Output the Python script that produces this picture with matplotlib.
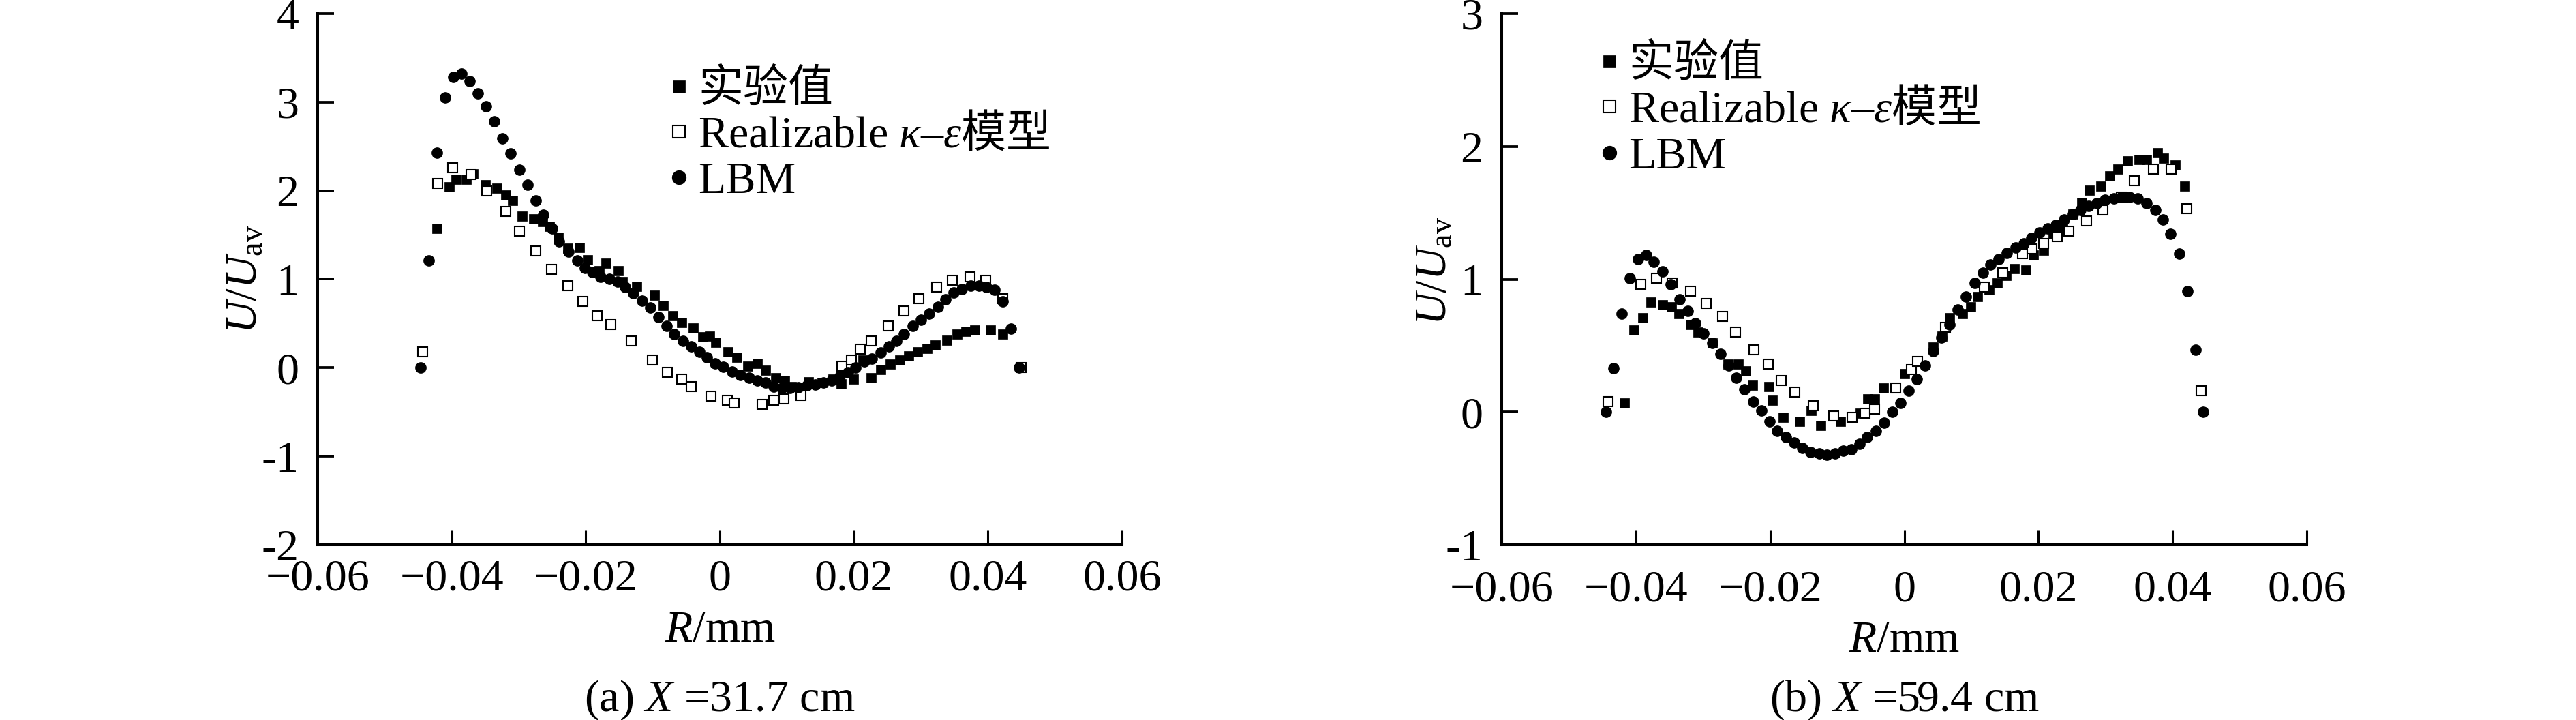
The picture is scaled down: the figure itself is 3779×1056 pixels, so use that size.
import matplotlib
matplotlib.use('Agg')
import matplotlib.pyplot as plt
from matplotlib.legend import Legend
from matplotlib.ticker import FixedLocator, FixedFormatter

plt.rcParams['font.family'] = ['Liberation Serif', 'Noto Sans CJK SC']
plt.rcParams['mathtext.fontset'] = 'custom'
plt.rcParams['mathtext.rm'] = 'Liberation Serif'
plt.rcParams['mathtext.it'] = 'Liberation Serif:italic'
plt.rcParams['mathtext.bf'] = 'Liberation Serif:bold'
plt.rcParams['mathtext.fallback'] = 'stix'

# ---- panel (a) X = 31.7 cm ----
r_exp_a = [-0.0422, -0.0404, -0.0394, -0.0378, -0.0368, -0.0350, -0.0333, -0.0319, -0.0309, -0.0295,
           -0.0278, -0.0264, -0.0254, -0.0241, -0.0227, -0.0210, -0.0197, -0.0180, -0.0170, -0.0152,
           -0.0145, -0.0124, -0.0098, -0.0084, -0.0070, -0.0057, -0.0040, -0.0025, -0.0015, -0.0006,
           0.0012, 0.0025, 0.0042, 0.0056, 0.0068, 0.0083, 0.0097, 0.0107, 0.0132, 0.0153,
           0.0169, 0.0181, 0.0199, 0.0214, 0.0226, 0.0240, 0.0254, 0.0268, 0.0282, 0.0295,
           0.0309, 0.0321, 0.0339, 0.0354, 0.0367, 0.0380, 0.0404, 0.0422]
u_exp_a = [1.57, 2.04, 2.13, 2.13, 2.19, 2.07, 2.03, 1.95, 1.89, 1.71,
           1.68, 1.65, 1.60, 1.47, 1.35, 1.36, 1.22, 1.10, 1.18, 1.10,
           0.97, 0.92, 0.82, 0.70, 0.59, 0.51, 0.45, 0.35, 0.36, 0.29,
           0.18, 0.12, 0.02, 0.05, -0.03, -0.11, -0.14, -0.21, -0.16, -0.17,
           -0.13, -0.18, -0.13, 0.09, -0.11, -0.02, 0.04, 0.09, 0.13, 0.18,
           0.22, 0.26, 0.31, 0.38, 0.41, 0.43, 0.43, 0.38]

r_rke_a = [-0.0443, -0.0421, -0.0399, -0.0371, -0.0348, -0.0319, -0.0299, -0.0275, -0.0251, -0.0227,
           -0.0204, -0.0183, -0.0163, -0.0132, -0.0101, -0.0078, -0.0057, -0.0043, -0.0013, 0.0011,
           0.0021, 0.0063, 0.0080, 0.0096, 0.0121, 0.0182, 0.0196, 0.0209, 0.0226, 0.0251,
           0.0275, 0.0297, 0.0323, 0.0347, 0.0373, 0.0397, 0.0422, 0.0449]
u_rke_a = [0.18, 2.08, 2.26, 2.18, 2.00, 1.77, 1.54, 1.32, 1.11, 0.93,
           0.75, 0.59, 0.49, 0.30, 0.09, -0.05, -0.13, -0.21, -0.32, -0.37,
           -0.40, -0.41, -0.37, -0.35, -0.31, 0.02, 0.09, 0.21, 0.30, 0.47,
           0.64, 0.78, 0.91, 0.99, 1.03, 0.99, 0.78, 0.00]

r_lbm_a = [-0.0446, -0.0434, -0.0422, -0.0410, -0.0398, -0.0385, -0.0373, -0.0361, -0.0349, -0.0337,
           -0.0324, -0.0312, -0.0299, -0.0287, -0.0275, -0.0263, -0.0250, -0.0240, -0.0226, -0.0213,
           -0.0201, -0.0190, -0.0178, -0.0165, -0.0153, -0.0141, -0.0129, -0.0116, -0.0104, -0.0092,
           -0.0079, -0.0068, -0.0055, -0.0043, -0.0031, -0.0019, -0.0007, 0.0005, 0.0018, 0.0031,
           0.0044, 0.0056, 0.0068, 0.0080, 0.0093, 0.0105, 0.0117, 0.0130, 0.0142, 0.0155,
           0.0167, 0.0179, 0.0191, 0.0202, 0.0216, 0.0227, 0.0240, 0.0252, 0.0263, 0.0275,
           0.0288, 0.0300, 0.0312, 0.0325, 0.0337, 0.0349, 0.0361, 0.0374, 0.0386, 0.0398,
           0.0410, 0.0422, 0.0434, 0.0446]
u_lbm_a = [0.00, 1.21, 2.43, 3.05, 3.28, 3.32, 3.24, 3.10, 2.95, 2.78,
           2.59, 2.42, 2.24, 2.07, 1.89, 1.73, 1.57, 1.43, 1.31, 1.21,
           1.13, 1.08, 1.03, 1.00, 0.97, 0.91, 0.84, 0.76, 0.68, 0.57,
           0.47, 0.38, 0.30, 0.24, 0.18, 0.12, 0.05, 0.01, -0.04, -0.08,
           -0.11, -0.14, -0.17, -0.21, -0.23, -0.23, -0.22, -0.20, -0.19, -0.17,
           -0.14, -0.10, -0.05, 0.00, 0.07, 0.10, 0.17, 0.24, 0.30, 0.38,
           0.47, 0.54, 0.61, 0.69, 0.77, 0.85, 0.89, 0.93, 0.93, 0.91,
           0.88, 0.75, 0.44, 0.00]

# ---- panel (b) X = 59.4 cm ----
r_exp_b = [-0.0417, -0.0403, -0.0390, -0.0377, -0.0360, -0.0347, -0.0336, -0.0319, -0.0307, -0.0286,
           -0.0263, -0.0247, -0.0236, -0.0226, -0.0202, -0.0197, -0.0180, -0.0156, -0.0139, -0.0124,
           -0.0095, -0.0066, -0.0054, -0.0044, -0.0031, 0.0000, 0.0043, 0.0056, 0.0068, 0.0087,
           0.0099, 0.0109, 0.0126, 0.0139, 0.0152, 0.0164, 0.0181, 0.0193, 0.0208, 0.0222,
           0.0236, 0.0251, 0.0265, 0.0276, 0.0293, 0.0306, 0.0319, 0.0333, 0.0350, 0.0361,
           0.0377, 0.0387, 0.0404, 0.0418]
u_exp_b = [0.07, 0.62, 0.71, 0.83, 0.81, 0.79, 0.74, 0.66, 0.60, 0.52,
           0.36, 0.36, 0.31, 0.20, 0.19, 0.09, -0.04, -0.07, 0.01, -0.10,
           -0.07, -0.01, 0.10, 0.10, 0.18, 0.29, 0.49, 0.57, 0.71, 0.74,
           0.79, 0.87, 0.92, 0.97, 1.03, 1.08, 1.07, 1.18, 1.22, 1.34,
           1.38, 1.49, 1.58, 1.67, 1.70, 1.78, 1.83, 1.89, 1.90, 1.90,
           1.95, 1.91, 1.86, 1.70]

r_rke_b = [-0.0441, -0.0393, -0.0369, -0.0346, -0.0319, -0.0295, -0.0271, -0.0251, -0.0224, -0.0203,
           -0.0183, -0.0163, -0.0136, -0.0105, -0.0078, -0.0058, -0.0044, -0.0013, 0.0011, 0.0020,
           0.0061, 0.0119, 0.0147, 0.0176, 0.0191, 0.0208, 0.0228, 0.0245, 0.0272, 0.0296,
           0.0324, 0.0343, 0.0371, 0.0398, 0.0421, 0.0442]
u_rke_b = [0.08, 0.96, 1.01, 0.97, 0.91, 0.82, 0.72, 0.60, 0.47, 0.36,
           0.24, 0.15, 0.05, -0.03, -0.04, -0.01, 0.02, 0.18, 0.32, 0.38,
           0.64, 0.94, 1.05, 1.19, 1.23, 1.27, 1.32, 1.36, 1.44, 1.52,
           1.62, 1.74, 1.83, 1.83, 1.53, 0.16]

r_lbm_b = [-0.0445, -0.0433, -0.0421, -0.0409, -0.0397, -0.0385, -0.0373, -0.0360, -0.0348, -0.0335,
           -0.0323, -0.0311, -0.0299, -0.0286, -0.0274, -0.0262, -0.0250, -0.0238, -0.0225, -0.0213,
           -0.0201, -0.0189, -0.0176, -0.0164, -0.0152, -0.0140, -0.0127, -0.0115, -0.0103, -0.0091,
           -0.0079, -0.0067, -0.0055, -0.0042, -0.0030, -0.0018, -0.0006, 0.0007, 0.0019, 0.0031,
           0.0043, 0.0055, 0.0068, 0.0080, 0.0092, 0.0105, 0.0117, 0.0129, 0.0141, 0.0153,
           0.0166, 0.0178, 0.0190, 0.0202, 0.0214, 0.0226, 0.0238, 0.0251, 0.0263, 0.0275,
           0.0287, 0.0299, 0.0312, 0.0324, 0.0336, 0.0348, 0.0361, 0.0374, 0.0386, 0.0397,
           0.0410, 0.0422, 0.0434, 0.0446]
u_lbm_b = [0.00, 0.33, 0.74, 1.01, 1.15, 1.18, 1.13, 1.06, 0.96, 0.85,
           0.76, 0.67, 0.59, 0.52, 0.44, 0.35, 0.26, 0.17, 0.08, 0.01,
           -0.07, -0.14, -0.19, -0.23, -0.27, -0.30, -0.31, -0.32, -0.31, -0.29,
           -0.28, -0.24, -0.19, -0.14, -0.08, 0.00, 0.07, 0.16, 0.25, 0.35,
           0.46, 0.56, 0.66, 0.77, 0.87, 0.97, 1.05, 1.11, 1.15, 1.20,
           1.24, 1.27, 1.31, 1.35, 1.38, 1.41, 1.45, 1.49, 1.52, 1.55,
           1.57, 1.60, 1.61, 1.62, 1.62, 1.61, 1.57, 1.52, 1.45, 1.34,
           1.19, 0.91, 0.47, 0.00]

labels = ['实验值', r'$\mathrm{Realizable}\ \mathit{\kappa}\mathrm{–}\mathit{\varepsilon}$模型', 'LBM']
x_ticks = [-0.06, -0.04, -0.02, 0, 0.02, 0.04, 0.06]
x_ticklabels = ['−0.06', '−0.04', '−0.02', '0', '0.02', '0.04', '0.06']
captions = [r'(a) $\mathit{X}$ =31.7 cm', r'(b) $\mathit{X}$ =59.4 cm']

W, H = 3779, 1056
fs = 47.5
desc = 14  # px below baseline of a legend row box

fig = plt.figure(figsize=(W / 100, H / 100), dpi=100)

# axes boxes in pixels: left, top, right, bottom
boxes = [(466, 20, 1646, 799), (2203, 20, 3384, 799)]
ylims = [(-2, 4), (-1, 3)]
panels = [(r_exp_a, u_exp_a, r_rke_a, u_rke_a, r_lbm_a, u_lbm_a),
          (r_exp_b, u_exp_b, r_rke_b, u_rke_b, r_lbm_b, u_lbm_b)]
legend_x = [980, 2345]
legend_base = [(150, 217, 283), (113, 180, 247)]
xpad = [15, 27]
xlabel_base = [941, 956]
ylabel_x = [-0.090, -0.083]
ylabel_y = [0.50, 0.516]

for i in range(2):
    l, t, r, b = boxes[i]
    ax = fig.add_axes([l / W, 1 - b / H, (r - l) / W, (b - t) / H])
    rx, ux, rr, ur, rl, ul = panels[i]
    h1, = ax.plot(rx, ux, 's', color='black', ms=10, mec='black', mew=0.5, linestyle='none')
    h2, = ax.plot(rr, ur, 's', mfc='white', mec='black', ms=9.5, mew=1.5, linestyle='none')
    h3, = ax.plot(rl, ul, 'o', color='black', ms=11, linestyle='none')

    ax.set_xlim(-0.06, 0.06)
    ax.set_ylim(*ylims[i])
    yt = list(range(ylims[i][0], ylims[i][1] + 1))
    ax.xaxis.set_major_locator(FixedLocator(x_ticks))
    ax.xaxis.set_major_formatter(FixedFormatter(x_ticklabels))
    ax.yaxis.set_major_locator(FixedLocator(yt))
    ax.yaxis.set_major_formatter(FixedFormatter([str(v) for v in yt]))
    for s in ['top', 'right']:
        ax.spines[s].set_visible(False)
    for s in ['left', 'bottom']:
        ax.spines[s].set_linewidth(2.9)
    ax.tick_params(axis='x', direction='in', length=15, width=2.2, pad=xpad[i], labelsize=fs)
    ax.tick_params(axis='y', direction='in', length=17, width=2.7, pad=20, labelsize=fs)

    ax.set_xlabel(r'$\mathit{R}$/mm', fontsize=fs, va='baseline')
    ax.xaxis.set_label_coords(0.5, -(xlabel_base[i] - b) / (b - t))
    ax.set_ylabel(r'$\mathit{U}/\mathit{U}_{\mathrm{av}}$', fontsize=fs, va='center')
    ax.yaxis.set_label_coords(ylabel_x[i], ylabel_y[i])

    # one single-row legend per entry so the rows sit at the reference baselines
    for k, h in enumerate([h1, h2, h3]):
        leg = Legend(ax, [h], [labels[k]], loc='lower left',
                     bbox_to_anchor=(legend_x[i] / W, 1 - (legend_base[i][k] + desc) / H),
                     bbox_transform=fig.transFigure, frameon=False, borderpad=0,
                     borderaxespad=0, handlelength=0.5, handletextpad=0.17, markerscale=1.3,
                     prop={'family': ['Liberation Serif', 'Noto Sans CJK SC'], 'size': fs})
        if k == 1:
            leg.get_texts()[0].set_fontfamily('Noto Sans CJK SC')
        ax.add_artist(leg)

    fig.text(((l + r) / 2) / W, 1 - 1043 / H, captions[i], ha='center', va='baseline', fontsize=fs)

fig.savefig('out.png', dpi=100)
